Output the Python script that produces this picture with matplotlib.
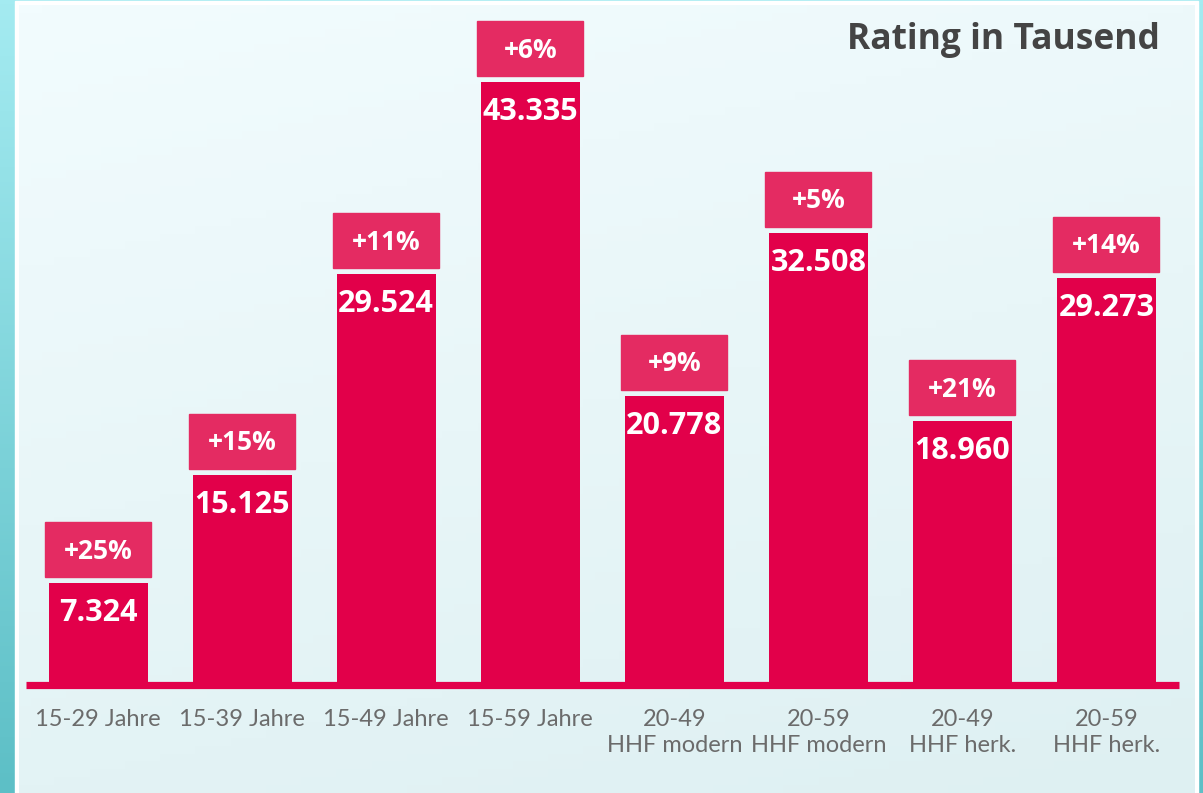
import matplotlib
matplotlib.use('Agg')
from matplotlib import pyplot as plt
from matplotlib.patches import Rectangle
from matplotlib.colors import LinearSegmentedColormap
import numpy as np

# chart data
categories = ['15-29 Jahre', '15-39 Jahre', '15-49 Jahre', '15-59 Jahre',
              '20-49\nHHF modern', '20-59\nHHF modern', '20-49\nHHF herk.', '20-59\nHHF herk.']
ratings = [7.324, 15.125, 29.524, 43.335, 20.778, 32.508, 18.960, 29.273]
changes = ['+25%', '+15%', '+11%', '+6%', '+9%', '+5%', '+21%', '+14%']
title = 'Rating in Tausend'

W, H = 1203, 793
BAR = '#e2004a'
BOX = '#e42b62'

fig = plt.figure(figsize=(W / 100, H / 100), dpi=100)

# background: cyan frame, white border, light gradient panel
bg = fig.add_axes([0, 0, 1, 1])
bg.set_xlim(0, W)
bg.set_ylim(H, 0)
bg.axis('off')
frame_cmap = LinearSegmentedColormap.from_list('frame', ['#a4ebf1', '#5dbfc6'])
bg.imshow(np.linspace(0, 1, 200).reshape(-1, 1), cmap=frame_cmap, aspect='auto',
          extent=[0, W, H, 0], zorder=0)
bg.add_patch(Rectangle((15, 1), 1183, H, color='white', zorder=1))
yy, xx = np.mgrid[0:1:100j, 0:1:100j]
panel = 0.75 * yy + 0.25 * xx
panel_cmap = LinearSegmentedColormap.from_list('panel', ['#f2fcfe', '#def0f2'])
bg.imshow(panel, cmap=panel_cmap, aspect='auto', extent=[19, 1195, H, 5], zorder=2)

# main chart
px_per_unit = 13.91
base_px = 685
top_px = 5
ax = fig.add_axes([26 / W, (H - base_px) / H, (1178.5 - 26) / W, (base_px - top_px) / H])
ax.patch.set_alpha(0)
ax.set_xlim(-0.5, 7.5)
ax.set_ylim(0, (base_px - top_px) / px_per_unit)
for s in ax.spines.values():
    s.set_visible(False)
ax.set_yticks([])

x = np.arange(len(categories))
ax.bar(x, ratings, width=0.6875, color=BAR, zorder=2)
ax.axhline(0, color=BAR, linewidth=5.2, zorder=3, clip_on=False, solid_capstyle='butt')

gap = 6 / px_per_unit
box_h = 55 / px_per_unit
box_w = 106 / 144
for xi, v, c in zip(x, ratings, changes):
    ax.add_patch(Rectangle((xi - box_w / 2, v + gap), box_w, box_h, color=BOX, zorder=2))
    ax.text(xi, v + gap + box_h / 2 - 0.1, c, ha='center', va='center', color='white',
            fontsize=19, fontweight='bold', family='Open Sans', zorder=4)
    ax.text(xi, v - 30 / px_per_unit, f'{v:.3f}', ha='center', va='center', color='white',
            fontsize=22, fontweight='bold', family='Open Sans', zorder=4)

ax.set_xticks(x)
ax.set_xticklabels(categories, fontsize=17, color='#6b6b6b', family='Lato',
                   linespacing=1.3)
ax.tick_params(axis='x', length=0, pad=17)

fig.text(1160 / W, 1 - 40 / H, title, ha='right', va='center', fontsize=25.5,
         fontweight='bold', color='#444444', family='Open Sans')

fig.savefig('out.png', dpi=100)
